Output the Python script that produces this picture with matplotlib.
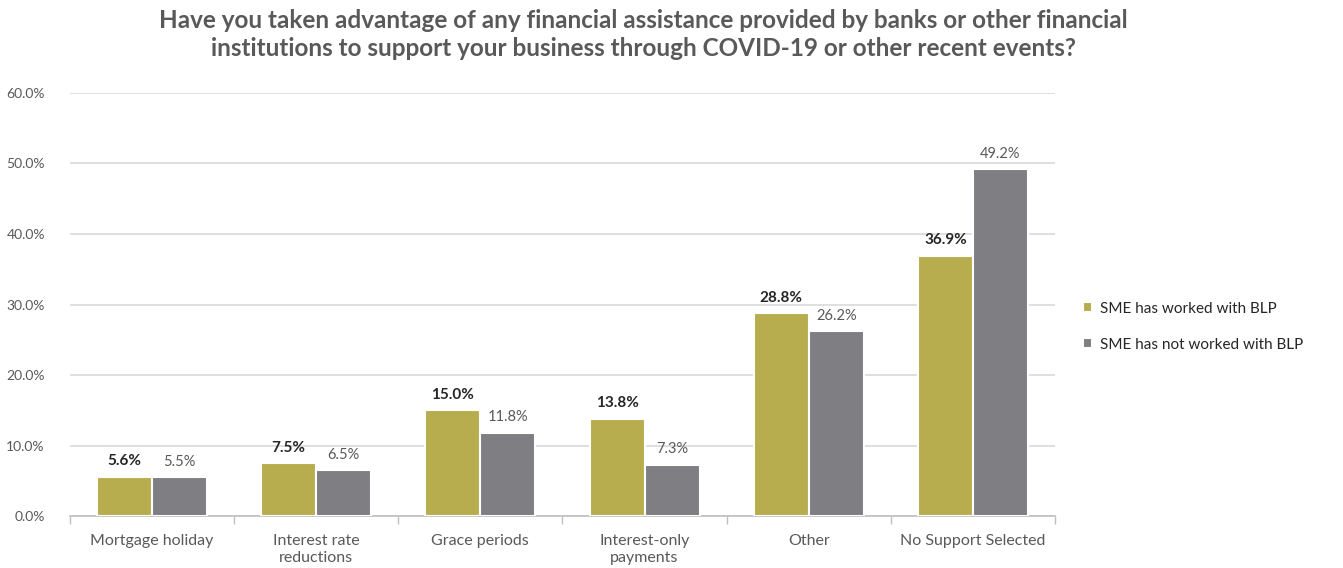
import matplotlib.pyplot as plt
import numpy as np

plt.rcParams['font.family'] = ['Lato', 'DejaVu Sans']

categories = ["Mortgage holiday", "Interest rate\nreductions", "Grace periods",
              "Interest-only\npayments", "Other", "No Support Selected"]
worked_blp = [5.6, 7.5, 15.0, 13.8, 28.8, 36.9]
not_worked_blp = [5.5, 6.5, 11.8, 7.3, 26.2, 49.2]
series_names = ["SME has worked with BLP", "SME has not worked with BLP"]

gold = "#B8AD4E"
grey = "#7F7F83"

fig = plt.figure(figsize=(13.43, 5.68), dpi=100)
ax = fig.add_axes([0.052, 0.0915, 0.7336, 0.7448])

x = np.arange(len(categories))
w = 0.335
b1 = ax.bar(x - w / 2, worked_blp, w, color=gold, edgecolor="white", linewidth=1.5,
            label=series_names[0], zorder=3)
b2 = ax.bar(x + w / 2, not_worked_blp, w, color=grey, edgecolor="white", linewidth=1.5,
            label=series_names[1], zorder=3)

for xi, v in zip(x, worked_blp):
    ax.text(xi - w / 2, v + 1.2, f"{v:.1f}%", ha="center", va="bottom",
            fontsize=11, fontweight="bold", color="#262626")
for xi, v in zip(x, not_worked_blp):
    ax.text(xi + w / 2, v + 1.2, f"{v:.1f}%", ha="center", va="bottom",
            fontsize=10.5, color="#595959")

ax.set_xlim(-0.5, len(categories) - 0.5)
ax.set_ylim(0, 60)
ax.set_yticks(np.arange(0, 61, 10))
ax.set_yticklabels([f"{t:.1f}%" for t in np.arange(0, 61, 10)])
ax.yaxis.grid(True, color="#D9D9D9", linewidth=1.2, zorder=0)
ax.set_axisbelow(True)

# category labels centred, tick marks at the boundaries
ax.set_xticks(x)
ax.set_xticklabels(categories, fontsize=11.5, color="#595959", linespacing=1.25)
ax.tick_params(axis="x", length=0, pad=13)
ax.set_xticks(np.arange(-0.5, len(categories), 1), minor=True)
ax.tick_params(axis="x", which="minor", length=6, color="#BFBFBF", width=1)
ax.tick_params(axis="y", length=0, labelsize=10, labelcolor="#595959", pad=18)

for s in ["top", "right", "left"]:
    ax.spines[s].set_visible(False)
ax.spines["bottom"].set_color("#BFBFBF")
ax.spines["bottom"].set_linewidth(1.2)

fig.text(0.479, 0.985,
         "Have you taken advantage of any financial assistance provided by banks or other financial\n"
         "institutions to support your business through COVID-19 or other recent events?",
         ha="center", va="top", fontsize=17.5, fontweight="bold", color="#595959",
         linespacing=1.3)

fig.legend(handles=[b1, b2], labels=series_names, loc="center left",
           bbox_to_anchor=(0.796, 0.425), frameon=False, fontsize=11,
           handlelength=0.6, handleheight=0.6, handletextpad=0.5, labelspacing=1.45,
           labelcolor="#262626")

fig.savefig("out.png", dpi=100)
